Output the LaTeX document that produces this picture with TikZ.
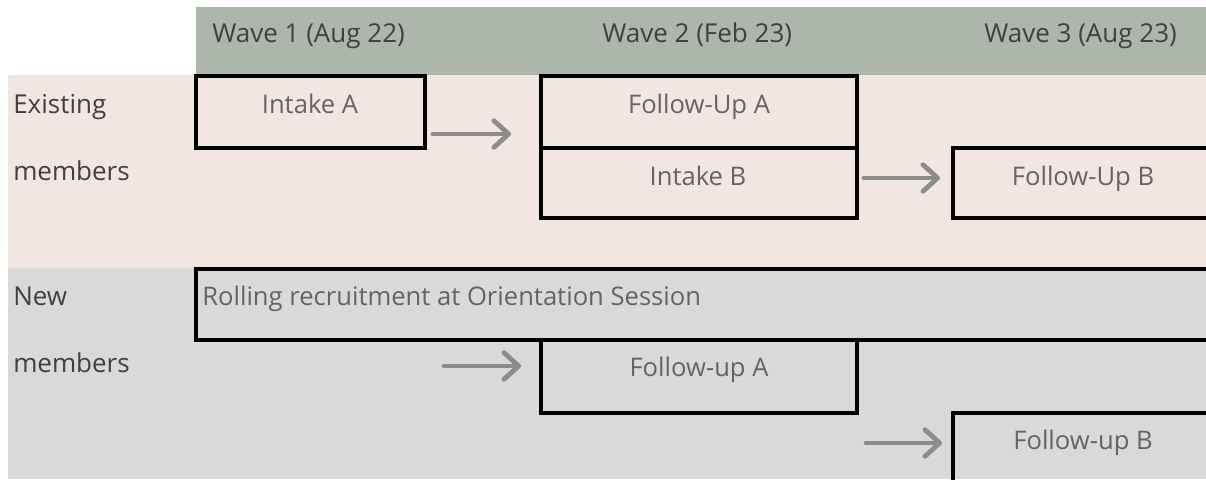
\documentclass[tikz,border=0pt]{standalone}
\usepackage{fontspec}
\setmainfont{Open Sans}
\usetikzlibrary{arrows.meta}

\definecolor{wavehead}{RGB}{173,182,171}
\definecolor{existfill}{RGB}{242,230,226}
\definecolor{newfill}{RGB}{217,217,217}
\definecolor{labelgrey}{RGB}{64,64,64}
\definecolor{stagegrey}{RGB}{100,100,100}
\definecolor{flowgrey}{RGB}{140,140,140}

\begin{document}
\begin{tikzpicture}[x=0.75pt,y=0.75pt,yscale=-1,xscale=1,
  stage/.style={draw=black,line width=2.8pt},
  rowlabel/.style={anchor=base west,inner sep=0pt,text=labelgrey,font=\fontsize{19.5}{23}\selectfont},
  stagelabel/.style={anchor=base,inner sep=0pt,text=stagegrey,font=\fontsize{19.2}{23}\selectfont},
  flow/.style={draw=flowgrey,line width=3.6pt,line cap=round,-{Straight Barb[length=11pt,width=20pt,round]}}]
\useasboundingbox (0,0) rectangle (1206,479);

%Shape: Rectangle [header band]
\fill [wavehead] (196,7) rectangle (1206,75);
%Shape: Rectangle [existing members band]
\fill [existfill] (8,75) rectangle (1206,268);
%Shape: Rectangle [new members band]
\fill [newfill] (8,268) rectangle (1206,479);

% Text Node
\node [rowlabel] (wave1) at (212,42) {Wave 1 (Aug 22)};
% Text Node
\node [rowlabel] (wave2) at (602,42) {Wave 2 (Feb 23)};
% Text Node
\node [rowlabel] (wave3) at (984,42) {Wave 3 (Aug 23)};

% Text Node
\node [rowlabel] (existing) at (13,113) {Existing};
% Text Node
\node [rowlabel] (existmembers) at (13,180) {members};
% Text Node
\node [rowlabel] (new) at (13,305) {New};
% Text Node
\node [rowlabel] (newmembers) at (13,372) {members};

%Shape: Rectangle
\draw [stage] (196,76) rectangle (425,148);
%Shape: Rectangle
\draw [stage] (541,76) rectangle (857,148);
%Shape: Rectangle
\draw [stage] (541,148) rectangle (857,218);
%Shape: Rectangle
\draw [stage] (953,148) rectangle (1220,218);
%Shape: Rectangle
\draw [stage] (196,269) rectangle (1220,340);
%Shape: Rectangle
\draw [stage] (541,340) rectangle (857,413);
%Shape: Rectangle
\draw [stage] (953,413) rectangle (1220,490);

% Text Node
\node [stagelabel] (intakeA) at (310,113) {Intake A};
% Text Node
\node [stagelabel] (followA) at (699,113) {Follow-Up A};
% Text Node
\node [stagelabel] (intakeB) at (698,185) {Intake B};
% Text Node
\node [stagelabel] (followB) at (1083,185) {Follow-Up B};
% Text Node
\node [stagelabel,anchor=base west] (rolling) at (202,305) {Rolling recruitment at Orientation Session};
% Text Node
\node [stagelabel] (newfollowA) at (699,376) {Follow-up A};
% Text Node
\node [stagelabel] (newfollowB) at (1083,449) {Follow-up B};

%Straight Lines
\coordinate (flow1s) at (433,134);
\coordinate (flow1e) at (511,134);
\draw [flow] (flow1s) -- (flow1e);
%Straight Lines
\coordinate (flow2s) at (864,178);
\coordinate (flow2e) at (940,178);
\draw [flow] (flow2s) -- (flow2e);
%Straight Lines
\coordinate (flow3s) at (444,366);
\coordinate (flow3e) at (521,366);
\draw [flow] (flow3s) -- (flow3e);
%Straight Lines
\coordinate (flow4s) at (866,443);
\coordinate (flow4e) at (942,443);
\draw [flow] (flow4s) -- (flow4e);

\end{tikzpicture}
\end{document}
